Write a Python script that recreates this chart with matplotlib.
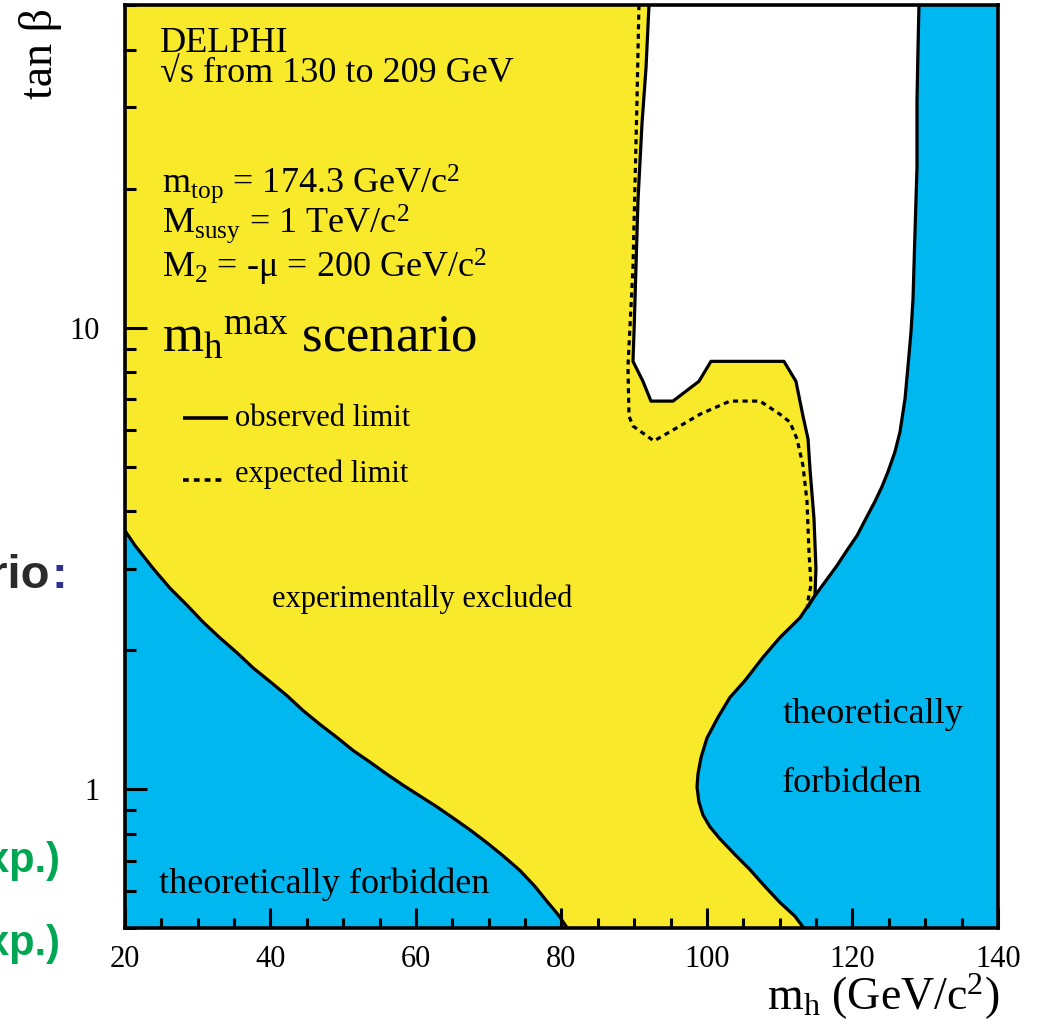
import matplotlib
matplotlib.use("Agg")
import matplotlib.pyplot as plt
from matplotlib.ticker import LogLocator, NullFormatter, FixedLocator, FixedFormatter

plt.rcParams["font.family"] = ["Liberation Serif", "DejaVu Serif"]
plt.rcParams["mathtext.fontset"] = "custom"
plt.rcParams["mathtext.rm"] = "Liberation Serif"
plt.rcParams["mathtext.it"] = "Liberation Serif:italic"
plt.rcParams["mathtext.bf"] = "Liberation Serif:bold"

# ---- boundaries in the (m_h, tan beta) plane ----
# lower-left theoretically forbidden region (upper edge)
left_forbidden_mh = [20.0, 21.37, 23.85, 26.19, 28.52, 30.72, 33.06, 35.40, 37.59, 39.93,
                     42.27, 44.47, 46.80, 49.14, 51.34, 53.68, 56.01, 58.21, 60.55, 62.89,
                     65.09, 67.42, 69.76, 71.96, 74.30, 76.36, 78.01, 79.52, 80.8]
left_forbidden_tb = [3.63, 3.373, 3.009, 2.724, 2.504, 2.302, 2.126, 1.974, 1.832, 1.710,
                     1.594, 1.480, 1.381, 1.294, 1.213, 1.144, 1.077, 1.020, 0.966, 0.915,
                     0.866, 0.816, 0.765, 0.717, 0.666, 0.615, 0.571, 0.535, 0.5]

# right theoretically forbidden region (left edge, from top to bottom)
right_forbidden_mh = [129.14, 129.00, 128.87, 128.87, 128.73, 128.59, 128.45, 128.32, 128.04,
                      127.63, 127.22, 126.53, 125.84, 124.88, 124.05, 123.09, 121.86, 120.62,
                      119.24, 117.87, 116.22, 114.57, 112.78, 110.03, 107.70, 105.22, 103.16,
                      101.51, 100.0, 99.18, 98.76, 98.63, 98.90, 99.45, 100.41, 101.79,
                      103.85, 105.91, 107.97, 110.03, 112.10, 113.3]
right_forbidden_tb = [50.0, 39.7, 31.0, 22.2, 18.9, 16.0, 13.5, 11.5, 9.76,
                      8.24, 7.00, 5.94, 5.38, 4.87, 4.52, 4.20, 3.86, 3.54,
                      3.29, 3.05, 2.81, 2.59, 2.35, 2.13, 1.93, 1.718, 1.58,
                      1.43, 1.29, 1.17, 1.077, 1.01, 0.937, 0.879, 0.828, 0.780,
                      0.721, 0.669, 0.615, 0.568, 0.530, 0.5]

# observed 95% CL exclusion limit
observed_mh = [92.03, 91.62, 91.07, 90.52, 90.24, 89.97, 89.83, 91.20, 92.30, 95.33,
               98.90, 100.55, 110.58, 112.23, 113.20, 113.89, 114.16, 114.71, 114.98,
               114.85, 113.80]
observed_tb = [50.0, 36.5, 27.7, 18.9, 13.5, 9.76, 8.45, 7.65, 6.93, 6.93,
               7.65, 8.45, 8.45, 7.65, 6.43, 5.74, 4.94, 3.86, 3.01,
               2.63, 2.47]

# expected 95% CL exclusion limit
expected_mh = [90.65, 90.38, 89.83, 89.14, 89.28, 89.83, 92.71, 96.29, 99.04, 103.16,
               107.29, 110.03, 111.41, 112.37, 113.20, 113.75, 114.02, 114.30, 113.75]
expected_tb = [50.0, 31.0, 13.5, 8.24, 6.43, 6.12, 5.68, 6.12, 6.49, 6.93,
               6.93, 6.49, 6.24, 5.74, 5.02, 4.20, 3.27, 2.77, 2.50]

x_range = (20, 140)
y_range = (0.5, 50)
x_major = [20, 40, 60, 80, 100, 120, 140]
y_major = [1, 10]
y_major_labels = ["1", "10"]

YELLOW = "#F8EA2B"
BLUE = "#00B7EF"

fig = plt.figure(figsize=(10.39, 10.27), dpi=100)
ax = fig.add_axes([0.1203, 0.0964, 0.8402, 0.8987])
ax.set_facecolor(YELLOW)
ax.set_yscale("log")
ax.set_xlim(*x_range)
ax.set_ylim(*y_range)

# filled regions
ax.fill(left_forbidden_mh + [x_range[0]], left_forbidden_tb + [y_range[0]],
        color=BLUE, lw=0, zorder=1)
ax.fill(right_forbidden_mh + [x_range[1], x_range[1]],
        right_forbidden_tb + [y_range[0], y_range[1]],
        color=BLUE, lw=0, zorder=1)

# allowed (not excluded) region between observed limit and right forbidden edge
n_up = sum(1 for t in right_forbidden_tb if t > observed_tb[-1])
white_mh = observed_mh + right_forbidden_mh[:n_up][::-1]
white_tb = observed_tb + right_forbidden_tb[:n_up][::-1]
ax.fill(white_mh, white_tb, color="white", lw=0, zorder=1)

# contour lines
line_kw = dict(color="black", lw=2.3, zorder=3, solid_capstyle="butt",
               solid_joinstyle="round")
ax.plot(left_forbidden_mh, left_forbidden_tb, **line_kw)
ax.plot(right_forbidden_mh, right_forbidden_tb, **line_kw)
ax.plot(observed_mh, observed_tb, **line_kw)
ax.plot(expected_mh, expected_tb, color="black", lw=2.3, zorder=3,
        linestyle=(0, (1.6, 1.4)), dash_capstyle="butt")

# axes styling
for side in ["left", "bottom", "right", "top"]:
    ax.spines[side].set_linewidth(2.6)
    ax.spines[side].set_zorder(5)
ax.xaxis.set_major_locator(FixedLocator(x_major))
ax.xaxis.set_minor_locator(FixedLocator(list(range(25, 140, 5))))
ax.yaxis.set_major_locator(FixedLocator(y_major))
ax.yaxis.set_major_formatter(FixedFormatter(y_major_labels))
ax.yaxis.set_minor_locator(LogLocator(base=10, subs=[2, 3, 4, 5, 6, 7, 8, 9]))
ax.yaxis.set_minor_formatter(NullFormatter())
ax.tick_params(which="both", direction="in", top=False, right=False, width=2.2,
               labelsize=22, zorder=4)
ax.tick_params(axis="x", which="major", length=14.5, pad=12)
ax.tick_params(axis="x", which="minor", length=7.5)
ax.tick_params(axis="y", which="major", length=15.5, pad=18)
ax.tick_params(axis="y", which="minor", length=8)

# axis titles
ax.text(1.002, -0.089, r"m$_{\mathrm{h}}$ (GeV/c$^{2}$)", transform=ax.transAxes,
        ha="right", va="baseline", fontsize=33)
ax.text(-0.097, 0.997, "tan β", transform=ax.transAxes, rotation=90,
        ha="center", va="top", fontsize=33)

# annotations
T = ax.transAxes
ax.text(0.040, 0.949, "DELPHI", transform=T, fontsize=26, va="baseline", zorder=6)
ax.text(0.040, 0.917, "√s from 130 to 209 GeV", transform=T, fontsize=26,
        va="baseline", zorder=6)
ax.text(0.042, 0.797, r"m$_{\mathrm{top}}$ = 174.3 GeV/c$^{2}$", transform=T,
        fontsize=26, va="baseline", zorder=6)
ax.text(0.042, 0.753, r"M$_{\mathrm{susy}}$ = 1 TeV/c$^{2}$", transform=T,
        fontsize=26, va="baseline", zorder=6)
ax.text(0.042, 0.705, r"M$_{\mathrm{2}}$ = -μ = 200 GeV/c$^{2}$", transform=T,
        fontsize=26, va="baseline", zorder=6)
ax.text(0.042, 0.624, r"m$_{\mathrm{h}}{}^{\mathrm{max}}$ scenario", transform=T,
        fontsize=38, va="baseline", zorder=6)

ax.plot([0.0664, 0.118], [0.553, 0.553], transform=T, color="black", lw=2.6,
        solid_capstyle="butt", zorder=6)
ax.text(0.126, 0.544, "observed limit", transform=T, fontsize=22, va="baseline", zorder=6)
ax.plot([0.0664, 0.111], [0.485, 0.485], transform=T, color="black", lw=2.6,
        linestyle=(0, (1.6, 1.4)), dash_capstyle="butt", zorder=6)
ax.text(0.126, 0.483, "expected limit", transform=T, fontsize=22, va="baseline", zorder=6)

ax.text(0.168, 0.348, "experimentally excluded", transform=T, fontsize=22,
        va="baseline", zorder=6)
ax.text(0.039, 0.038, "theoretically forbidden", transform=T, fontsize=26,
        va="baseline", zorder=6)
ax.text(0.753, 0.222, "theoretically", transform=T, fontsize=26, va="baseline", zorder=6)
ax.text(0.753, 0.147, "forbidden", transform=T, fontsize=26, va="baseline", zorder=6)

# slide text running in from the left margin
sans = ["Liberation Sans", "DejaVu Sans"]
fig.text(50 / 1039, 1 - 588 / 1027, "scenario", ha="right", va="baseline",
         fontsize=34, fontweight="bold", color="#2B2B2B", family=sans)
fig.text(51 / 1039, 1 - 588 / 1027, ":", ha="left", va="baseline",
         fontsize=34, fontweight="bold", color="#2E3192", family=sans)
fig.text(61 / 1039, 1 - 872 / 1027, "(exp.)", ha="right", va="baseline",
         fontsize=30, fontweight="bold", color="#00A651", family=sans)
fig.text(61 / 1039, 1 - 955 / 1027, "(exp.)", ha="right", va="baseline",
         fontsize=30, fontweight="bold", color="#00A651", family=sans)

fig.savefig("out.png", dpi=100)
